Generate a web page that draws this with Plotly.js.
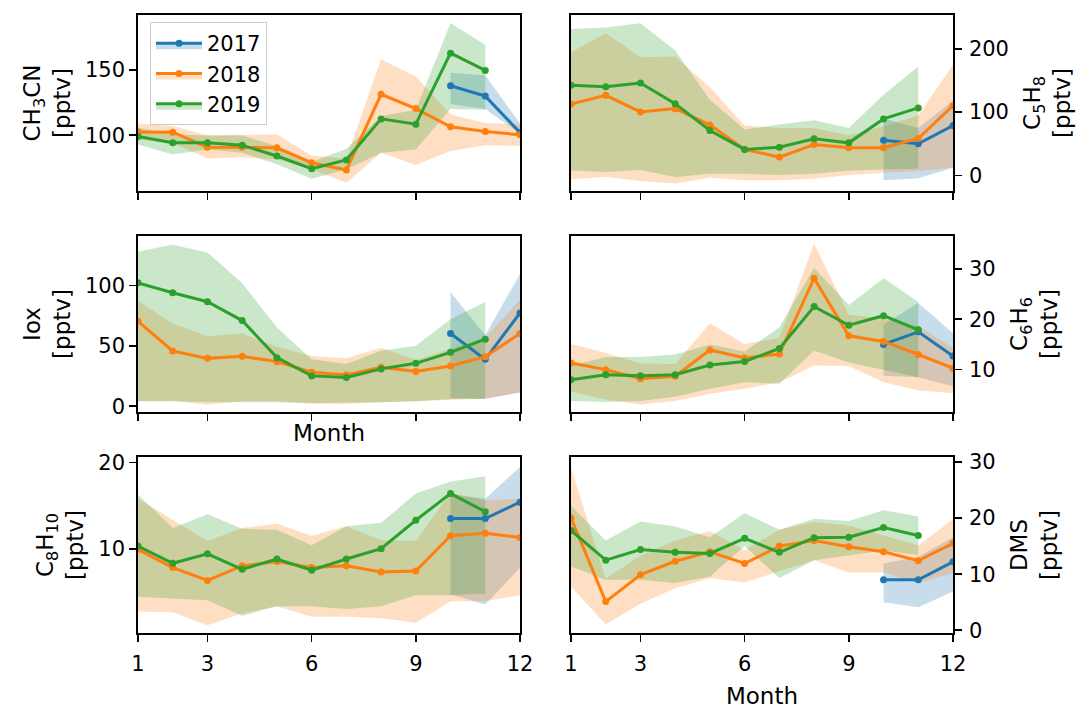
<!DOCTYPE html>
<html><head><meta charset="utf-8">
<script src="https://cdn.plot.ly/plotly-3.0.1.min.js"></script>
<style>html,body{margin:0;padding:0;background:#fff}</style>
</head><body><div id="chart" style="width:1081px;height:709px"></div>
<script>
const months = [1,2,3,4,5,6,7,8,9,10,11,12];
const years = ['2017','2018','2019'];
const N = null;

// CH3CN
const ch3cn_2017    = [N,N,N,N,N,N,N,N,N,138,130,102];
const ch3cn_2017_lo = [N,N,N,N,N,N,N,N,N,124,120,101];
const ch3cn_2017_hi = [N,N,N,N,N,N,N,N,N,148,146,109];
const ch3cn_2018    = [102.5,102.3,90.8,90.8,90.3,78.8,73.2,131.4,120.4,106.4,102.8,100.3];
const ch3cn_2018_lo = [96.7,94,82,83,81.4,73.7,63.5,86.5,77,87.8,92.3,91.6];
const ch3cn_2018_hi = [109,107,100,100,100.5,84.4,82,158.4,145,115.8,109.4,108.2];
const ch3cn_2019    = [99,94.1,94.1,92.3,84,74.2,80.9,112.5,108.4,163,149.7,N];
const ch3cn_2019_lo = [92.9,85.2,89,86.5,77.6,66.6,73.7,86.5,89,120,119.6,N];
const ch3cn_2019_hi = [105.6,100.5,99.7,99.7,91.6,79.3,89.5,114.5,119.6,186,169.4,N];

// C5H8
const c5h8_2017    = [N,N,N,N,N,N,N,N,N,55.6,49.9,78.7];
const c5h8_2017_lo = [N,N,N,N,N,N,N,N,N,-7.9,-4.7,12];
const c5h8_2017_hi = [N,N,N,N,N,N,N,N,N,89.8,75,118];
const c5h8_2018    = [112.9,126.5,100.3,105.5,79.8,41,28.9,48.8,43.6,43.6,58.3,110.2];
const c5h8_2018_lo = [-6.3,-2.6,-8.9,-13,-3.7,-7.9,-7.9,-5.2,0.5,4.2,6.8,12];
const c5h8_2018_hi = [194.8,224.7,186.9,188,139.2,78.7,75,75,63,77.7,94.5,174.8];
const c5h8_2019    = [142.3,140.2,146,113.4,70.9,41,44.6,57.7,51.4,89.2,106.6,N];
const c5h8_2019_lo = [7.9,5.2,8.4,-2.6,2.6,2.6,0.5,2.6,7.9,9.4,10.5,N];
const c5h8_2019_hi = [231.5,233.6,240.4,197.4,119.7,72.4,80.3,87.1,75,127.5,172.2,N];

// Iox
const iox_2017    = [N,N,N,N,N,N,N,N,N,60.3,38.9,77.3];
const iox_2017_lo = [N,N,N,N,N,N,N,N,N,6.8,6.3,11.5];
const iox_2017_hi = [N,N,N,N,N,N,N,N,N,94.5,58.9,109.6];
const iox_2018    = [70.4,45.8,39.7,41.4,37,28.2,26,32.3,28.8,33.4,41.1,60.3];
const iox_2018_lo = [4.1,4.7,1.4,4.1,4.1,2.2,2.2,3.3,4.7,5.5,6.3,11.5];
const iox_2018_hi = [87.1,68.5,58,60.3,49.3,41.6,39.7,48.5,38.4,47.9,57,88.2];
const iox_2019    = [102.2,94,86.6,71,40.3,25.2,23.8,31,35.6,44.7,55.6,N];
const iox_2019_lo = [4.1,4.1,3.6,3.3,3.3,2.7,2.7,3.3,4.1,6,6,N];
const iox_2019_hi = [128.2,133.7,127.4,101.9,65.2,38.9,35.1,46,50.1,72,86.3,N];

// C6H6
const c6h6_2017    = [N,N,N,N,N,N,N,N,N,15,17.5,12.7];
const c6h6_2017_lo = [N,N,N,N,N,N,N,N,N,8.8,8.5,6.7];
const c6h6_2017_hi = [N,N,N,N,N,N,N,N,N,18.9,23.2,17.2];
const c6h6_2018    = [11.3,10,8.2,8.7,13.9,12.3,13.1,28.1,16.7,15.6,13,10.3];
const c6h6_2018_lo = [5.6,4.1,3.1,3.8,5.2,6.2,7.5,10.8,10.7,7.5,5.9,5.3];
const c6h6_2018_hi = [15.1,13.3,11.2,11.1,19.2,15.1,16.3,35,20.9,20.2,18.7,14.3];
const c6h6_2019    = [8,9,8.8,9,10.9,11.6,14.2,22.5,18.8,20.7,17.9,N];
const c6h6_2019_lo = [3.8,3.6,3.8,4.6,6.2,7.5,7.2,13.8,11.4,10,8.5,N];
const c6h6_2019_hi = [10.7,12.5,12.5,13,15,13.6,18.4,30.2,22.8,28.1,23.4,N];

// C8H10
const c8h10_2017    = [N,N,N,N,N,N,N,N,N,13.5,13.5,15.4];
const c8h10_2017_lo = [N,N,N,N,N,N,N,N,N,4.7,3.5,7.8];
const c8h10_2017_hi = [N,N,N,N,N,N,N,N,N,16.3,15.8,19.5];
const c8h10_2018    = [9.9,7.8,6.3,8,8.5,7.8,8,7.3,7.4,11.5,11.8,11.3];
const c8h10_2018_lo = [2.7,2.6,1.1,2.5,3.3,2.1,2.1,1.9,1.4,3.9,3.9,4.6];
const c8h10_2018_hi = [15.8,13.3,10.9,12.4,12.9,11.5,12.6,11,10.9,16.5,15.6,15.8];
const c8h10_2019    = [10.3,8.3,9.4,7.6,8.8,7.5,8.8,10,13.3,16.4,14.3,N];
const c8h10_2019_lo = [4.4,4.2,4,2.2,3.3,3.3,3,3.3,4.6,4.6,4.8,N];
const c8h10_2019_hi = [16.3,12.4,14,12.3,12.2,10.4,12.6,13,16.4,17.8,18.4,N];

// DMS
const dms_2017    = [N,N,N,N,N,N,N,N,N,9,9,12.2];
const dms_2017_lo = [N,N,N,N,N,N,N,N,N,5,4.1,6.9];
const dms_2017_hi = [N,N,N,N,N,N,N,N,N,11.9,13.1,16.6];
const dms_2018    = [20,5.1,9.9,12.3,14,11.9,15,16,14.9,14,12.4,15.5];
const dms_2018_lo = [7.8,1,4.7,7.5,9.3,8.5,10.5,12.5,10.3,10.3,8.4,10.2];
const dms_2018_hi = [29,9.2,13.3,16,17.7,14.3,17.9,19.3,18.7,16.9,15.1,19.8];
const dms_2019    = [17.8,12.5,14.4,13.9,13.7,16.4,13.9,16.5,16.6,18.3,16.9,N];
const dms_2019_lo = [11.4,9,9,8.4,9.6,15,9.3,12.5,13.4,14.2,13.4,N];
const dms_2019_hi = [22.2,16,19.4,18.5,16.6,20.9,17.9,19.9,19.5,21.4,20.3,N];

const xTicks = [1,3,6,9,12];
const titles = ['CH<sub>3</sub>CN<br>[pptv]','C<sub>5</sub>H<sub>8</sub><br>[pptv]','Iox<br>[pptv]',
                'C<sub>6</sub>H<sub>6</sub><br>[pptv]','C<sub>8</sub>H<sub>10</sub><br>[pptv]','DMS<br>[pptv]'];

const panels = [
  {series:[[ch3cn_2017,ch3cn_2017_lo,ch3cn_2017_hi],[ch3cn_2018,ch3cn_2018_lo,ch3cn_2018_hi],[ch3cn_2019,ch3cn_2019_lo,ch3cn_2019_hi]], range:[57.1,192.3], ticks:[100,150]},
  {series:[[c5h8_2017,c5h8_2017_lo,c5h8_2017_hi],[c5h8_2018,c5h8_2018_lo,c5h8_2018_hi],[c5h8_2019,c5h8_2019_lo,c5h8_2019_hi]], range:[-24.7,253.5], ticks:[0,100,200]},
  {series:[[iox_2017,iox_2017_lo,iox_2017_hi],[iox_2018,iox_2018_lo,iox_2018_hi],[iox_2019,iox_2019_lo,iox_2019_hi]], range:[-4.7,141], ticks:[0,50,100]},
  {series:[[c6h6_2017,c6h6_2017_lo,c6h6_2017_hi],[c6h6_2018,c6h6_2018_lo,c6h6_2018_hi],[c6h6_2019,c6h6_2019_lo,c6h6_2019_hi]], range:[1.6,36.5], ticks:[10,20,30]},
  {series:[[c8h10_2017,c8h10_2017_lo,c8h10_2017_hi],[c8h10_2018,c8h10_2018_lo,c8h10_2018_hi],[c8h10_2019,c8h10_2019_lo,c8h10_2019_hi]], range:[0.2,20.65], ticks:[10,20]},
  {series:[[dms_2017,dms_2017_lo,dms_2017_hi],[dms_2018,dms_2018_lo,dms_2018_hi],[dms_2019,dms_2019_lo,dms_2019_hi]], range:[-0.5,30.9], ticks:[0,10,20,30]}
];

const lineColors = ['#1f77b4','#ff7f0e','#2ca02c'];
const bandColors = ['rgba(31,119,180,0.25)','rgba(255,127,14,0.25)','rgba(44,160,44,0.25)'];

const W = 1081, H = 709;
const colX = [[138,520],[571,953]];
const rowY = [[15,191],[236,412],[457,633]];
const FONT = 'DejaVu Sans, sans-serif';
const FS_TICK = 21, FS_LABEL = 23, FS_LEG = 21;

const data = [];
const layout = {
  width: W, height: H, margin:{l:0,r:0,t:0,b:0},
  paper_bgcolor:'#fff', plot_bgcolor:'#fff',
  font:{family:FONT, size:FS_TICK, color:'#000'},
  showlegend:true,
  legend:{x:150/W, y:1-22/H, xanchor:'left', yanchor:'top', bgcolor:'rgba(255,255,255,0.8)',
          bordercolor:'#cccccc', borderwidth:1, font:{family:FONT,size:FS_LEG}, itemwidth:46,
          tracegroupgap:0}
};

panels.forEach((p, i) => {
  const k = i + 1;
  const xa = 'x' + (k === 1 ? '' : k), ya = 'y' + (k === 1 ? '' : k);
  const col = i % 2, row = Math.floor(i / 2);
  p.series.forEach((s, j) => {
    const [v, lo, hi] = s;
    const idx = months.map((m, t) => t).filter(t => lo[t] !== null && hi[t] !== null);
    const px = idx.map(t => months[t]).concat(idx.slice().reverse().map(t => months[t]));
    const py = idx.map(t => hi[t]).concat(idx.slice().reverse().map(t => lo[t]));
    data.push({x:px, y:py, xaxis:xa, yaxis:ya, type:'scatter', mode:'lines', fill:'toself',
      fillcolor:bandColors[j], line:{width:0, color:bandColors[j]}, showlegend:false, hoverinfo:'skip'});
  });
  p.series.forEach((s, j) => {
    data.push({x:months, y:s[0], xaxis:xa, yaxis:ya, type:'scatter', mode:'lines+markers',
      line:{color:lineColors[j], width:3}, marker:{color:lineColors[j], size:7},
      showlegend:false, connectgaps:false});
  });
  const axBase = {showline:true, mirror:true, linecolor:'#000', linewidth:1.7, ticks:'outside',
    ticklen:7, tickwidth:1.7, tickcolor:'#000', showgrid:false, zeroline:false,
    tickfont:{family:FONT,size:FS_TICK,color:'#000'}};
  layout['xaxis' + (k === 1 ? '' : k)] = Object.assign({}, axBase, {
    domain:[colX[col][0]/W, colX[col][1]/W], anchor:ya, range:[1,12],
    tickmode:'array', tickvals:xTicks, ticktext:xTicks.map(String),
    showticklabels: row === 2, ticklabelstandoff: 4,
    title: (i === 2 || i === 5) ? {text:'Month', font:{family:FONT,size:FS_LABEL}, standoff: i===2 ? 5 : 16} : {text:''}
  });
  layout['yaxis' + (k === 1 ? '' : k)] = Object.assign({}, axBase, {
    domain:[1-rowY[row][1]/H, 1-rowY[row][0]/H], anchor:xa, range:p.range,
    tickmode:'array', tickvals:p.ticks, ticktext:p.ticks.map(String),
    side: col === 0 ? 'left' : 'right',
    ticklabelstandoff: col === 0 ? 0 : 3,
    title:{text:titles[i], font:{family:FONT,size:FS_LABEL}, standoff: col === 0 ? 8 : 16}
  });
});

years.forEach((y, j) => {
  data.push({x:[null], y:[null], type:'scatter', mode:'lines+markers', name:y, fill:'toself',
    fillcolor:bandColors[j], line:{color:lineColors[j], width:3}, marker:{color:lineColors[j], size:7},
    showlegend:true, xaxis:'x', yaxis:'y'});
});

Plotly.newPlot('chart', data, layout, {displayModeBar:false, staticPlot:true});
</script></body></html>
